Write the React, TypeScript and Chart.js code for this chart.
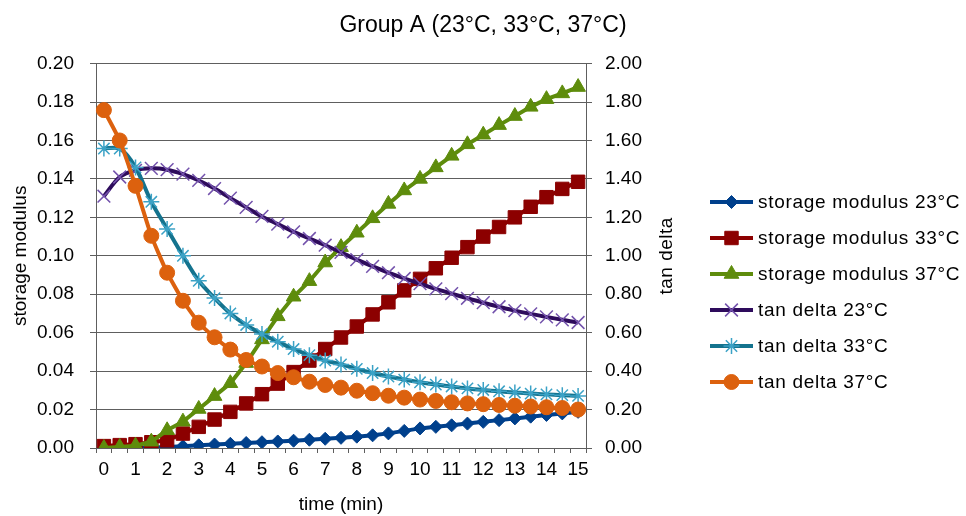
import React, { useEffect, useRef } from 'react';
import { Chart, registerables } from 'chart.js';

Chart.register(...registerables);

// ---- data ----
const timeMin = [0, 0.5, 1, 1.5, 2, 2.5, 3, 3.5, 4, 4.5, 5, 5.5, 6, 6.5, 7, 7.5, 8, 8.5, 9, 9.5, 10, 10.5, 11, 11.5, 12, 12.5, 13, 13.5, 14, 14.5, 15];

const storage23 = [0, 0, 0, 0.0002, 0.0005, 0.0009, 0.0014, 0.0018, 0.0022, 0.0026, 0.003, 0.0034, 0.0038, 0.0043, 0.0048, 0.0053, 0.0059, 0.0066, 0.0076, 0.0089, 0.0102, 0.011, 0.0118, 0.0127, 0.0136, 0.0145, 0.0154, 0.0163, 0.0172, 0.018, 0.0188];
const storage33 = [0.001, 0.0015, 0.002, 0.003, 0.004, 0.0075, 0.011, 0.0148, 0.0188, 0.0232, 0.028, 0.0335, 0.0395, 0.0455, 0.0515, 0.0575, 0.0632, 0.0695, 0.0758, 0.082, 0.088, 0.0935, 0.099, 0.1045, 0.11, 0.115, 0.12, 0.1255, 0.1305, 0.1348, 0.1385];
const storage37 = [0, 0.0005, 0.0012, 0.0033, 0.0092, 0.0137, 0.0203, 0.027, 0.0337, 0.0442, 0.0565, 0.0685, 0.0787, 0.0868, 0.0965, 0.1045, 0.112, 0.1195, 0.127, 0.134, 0.14, 0.146, 0.152, 0.158, 0.163, 0.168, 0.1727, 0.1775, 0.1815, 0.1845, 0.1878];
const tanDelta23 = [1.31, 1.41, 1.445, 1.455, 1.448, 1.425, 1.392, 1.35, 1.3, 1.252, 1.205, 1.165, 1.125, 1.09, 1.055, 1.018, 0.98, 0.945, 0.912, 0.882, 0.855, 0.828, 0.803, 0.779, 0.756, 0.735, 0.715, 0.698, 0.682, 0.667, 0.653];
const tanDelta33 = [1.558, 1.558, 1.46, 1.281, 1.14, 1.0, 0.87, 0.78, 0.7, 0.64, 0.593, 0.553, 0.515, 0.483, 0.455, 0.435, 0.412, 0.39, 0.372, 0.356, 0.342, 0.33, 0.32, 0.31, 0.302, 0.295, 0.289, 0.283, 0.279, 0.275, 0.271];
const tanDelta37 = [1.758, 1.6, 1.364, 1.104, 0.912, 0.766, 0.652, 0.576, 0.512, 0.458, 0.424, 0.39, 0.368, 0.345, 0.328, 0.314, 0.298, 0.285, 0.272, 0.262, 0.252, 0.245, 0.238, 0.232, 0.228, 0.224, 0.22, 0.216, 0.212, 0.208, 0.2];

const seriesLabels = [
  'storage modulus 23°C',
  'storage modulus 33°C',
  'storage modulus 37°C',
  'tan delta 23°C',
  'tan delta 33°C',
  'tan delta 37°C',
];

const chartTitle = 'Group A (23°C, 33°C, 37°C)';
const xTitle = 'time (min)';
const yLeftTitle = 'storage modulus';
const yRightTitle = 'tan delta';

const FONT = '"Liberation Sans", Arial, Helvetica, sans-serif';

type Sty = {
  line: string;
  fill: string;
  stroke: string;
  marker: string;
  radius: number;
  bw: number;
  tension: number;
};

const styles: Sty[] = [
  { line: '#00408C', fill: '#00408C', stroke: '#00408C', marker: 'rectRot', radius: 6.5, bw: 1, tension: 0 },
  { line: '#8C0000', fill: '#8C0000', stroke: '#8C0000', marker: 'rect', radius: 9.5, bw: 1, tension: 0 },
  { line: '#5E8C0C', fill: '#5E8C0C', stroke: '#5E8C0C', marker: 'triangle', radius: 8.5, bw: 1, tension: 0 },
  { line: '#2E0C5C', fill: 'rgba(0,0,0,0)', stroke: '#7352AC', marker: 'crossRot', radius: 9, bw: 1.5, tension: 0.3 },
  { line: '#14738E', fill: 'rgba(0,0,0,0)', stroke: '#3BA2C6', marker: 'star', radius: 8, bw: 1.5, tension: 0.3 },
  { line: '#DC610E', fill: '#DC610E', stroke: '#DC610E', marker: 'circle', radius: 7.5, bw: 1, tension: 0.15 },
];

function drawMarker(ctx: CanvasRenderingContext2D, s: Sty, x: number, y: number) {
  const r = s.radius;
  ctx.save();
  ctx.fillStyle = s.fill;
  ctx.strokeStyle = s.stroke;
  ctx.lineWidth = s.bw;
  ctx.beginPath();
  const q = Math.PI / 4;
  switch (s.marker) {
    case 'circle':
      ctx.arc(x, y, r, 0, Math.PI * 2);
      ctx.closePath();
      ctx.fill();
      ctx.stroke();
      break;
    case 'rect': {
      const h = Math.SQRT1_2 * r;
      ctx.rect(x - h, y - h, 2 * h, 2 * h);
      ctx.fill();
      ctx.stroke();
      break;
    }
    case 'rectRot':
      ctx.moveTo(x - r, y);
      ctx.lineTo(x, y - r);
      ctx.lineTo(x + r, y);
      ctx.lineTo(x, y + r);
      ctx.closePath();
      ctx.fill();
      ctx.stroke();
      break;
    case 'triangle': {
      let a = 0;
      ctx.moveTo(x + Math.sin(a) * r, y - Math.cos(a) * r);
      a += (2 * Math.PI) / 3;
      ctx.lineTo(x + Math.sin(a) * r, y - Math.cos(a) * r);
      a += (2 * Math.PI) / 3;
      ctx.lineTo(x + Math.sin(a) * r, y - Math.cos(a) * r);
      ctx.closePath();
      ctx.fill();
      ctx.stroke();
      break;
    }
    case 'crossRot': {
      const o = Math.cos(q) * r;
      ctx.moveTo(x - o, y - o);
      ctx.lineTo(x + o, y + o);
      ctx.moveTo(x - o, y + o);
      ctx.lineTo(x + o, y - o);
      ctx.stroke();
      break;
    }
    case 'star': {
      const o = Math.cos(q) * r;
      ctx.moveTo(x, y - r);
      ctx.lineTo(x, y + r);
      ctx.moveTo(x - r, y);
      ctx.lineTo(x + r, y);
      ctx.moveTo(x - o, y - o);
      ctx.lineTo(x + o, y + o);
      ctx.moveTo(x - o, y + o);
      ctx.lineTo(x + o, y - o);
      ctx.stroke();
      break;
    }
  }
  ctx.restore();
}

const overlayPlugin = {
  id: 'overlayLegend',
  afterDraw(chart: any) {
    const ctx: CanvasRenderingContext2D = chart.ctx;
    const ca = chart.chartArea;
    // right axis title (reads bottom to top)
    ctx.save();
    ctx.translate(672, (ca.top + ca.bottom) / 2);
    ctx.rotate(-Math.PI / 2);
    ctx.font = `19px ${FONT}`;
    (ctx as any).letterSpacing = '0.5px';
    ctx.fillStyle = '#000';
    ctx.textAlign = 'center';
    ctx.textBaseline = 'alphabetic';
    ctx.fillText(yRightTitle, 0, 0);
    ctx.restore();

    // legend
    const lx0 = 710;
    const lx1 = 753;
    const ty = 202;
    const step = 36;
    chart.data.datasets.forEach((ds: any, i: number) => {
      const s = styles[i];
      const y = ty + i * step;
      ctx.save();
      ctx.strokeStyle = s.line;
      ctx.lineWidth = 4;
      ctx.lineCap = 'butt';
      ctx.beginPath();
      ctx.moveTo(lx0, y);
      ctx.lineTo(lx1, y);
      ctx.stroke();
      ctx.restore();
      drawMarker(ctx, s, (lx0 + lx1) / 2, y);
      ctx.save();
      ctx.font = `19px ${FONT}`;
      (ctx as any).letterSpacing = '0.7px';
      ctx.fillStyle = '#000';
      ctx.textAlign = 'left';
      ctx.textBaseline = 'middle';
      ctx.fillText(ds.label, 758, y + 1);
      ctx.restore();
    });
  },
};

export default function App() {
  const ref = useRef<HTMLCanvasElement | null>(null);

  useEffect(() => {
    if (!ref.current) return;
    Chart.defaults.font.family = FONT;
    Chart.defaults.color = '#000';

    const seriesData = [storage23, storage33, storage37, tanDelta23, tanDelta33, tanDelta37];
    const datasets = seriesData.map((d, i) => {
      const s = styles[i];
      return {
        label: seriesLabels[i],
        data: d,
        yAxisID: i < 3 ? 'y' : 'y1',
        borderColor: s.line,
        backgroundColor: s.line,
        borderWidth: 4,
        tension: s.tension,
        pointStyle: s.marker as any,
        pointRadius: s.radius,
        pointBackgroundColor: s.fill,
        pointBorderColor: s.stroke,
        pointBorderWidth: s.bw,
        fill: false,
        order: 6 - i,
      };
    });

    const gridColor = '#5E5E5E';
    const chart = new Chart(ref.current, {
      type: 'line',
      data: {
        labels: timeMin.map((t) => String(t)),
        datasets,
      },
      options: {
        responsive: false,
        animation: false,
        devicePixelRatio: 1,
        layout: { padding: 0 },
        plugins: {
          legend: { display: false },
          tooltip: { enabled: false },
          title: {
            display: true,
            text: chartTitle,
            color: '#000',
            font: { family: FONT, size: 23, weight: 'normal' as any },
            padding: { top: 12, bottom: 24 },
          },
        },
        scales: {
          x: {
            type: 'category',
            offset: true,
            grid: {
              display: true,
              drawOnChartArea: false,
              drawTicks: true,
              tickLength: 5,
              offset: true,
              color: gridColor,
            },
            border: { display: true, color: gridColor, width: 1 },
            ticks: {
              autoSkip: false,
              maxRotation: 0,
              minRotation: 0,
              padding: 5,
              color: '#000',
              font: { family: FONT, size: 19 },
              callback: (_v: any, idx: number) => (Number.isInteger(timeMin[idx]) ? String(timeMin[idx]) : ''),
            },
            title: {
              display: true,
              text: xTitle,
              color: '#000',
              font: { family: FONT, size: 19 },
              padding: { top: 0, bottom: 0 },
            },
            afterFit: (scale: any) => {
              scale.height = 68;
            },
          },
          y: {
            position: 'left',
            min: 0,
            max: 0.2,
            grid: { color: gridColor, lineWidth: 1, tickLength: 6, drawTicks: true },
            border: { display: true, color: gridColor, width: 1 },
            ticks: {
              stepSize: 0.02,
              padding: 16,
              color: '#000',
              font: { family: FONT, size: 19 },
              callback: (v: any) => Number(v).toFixed(2),
            },
            title: {
              display: true,
              text: yLeftTitle,
              color: '#000',
              font: { family: FONT, size: 19 },
              padding: { top: 9, bottom: 0 },
            },
            afterFit: (scale: any) => {
              scale.width = 96;
            },
          },
          y1: {
            position: 'right',
            min: 0,
            max: 2,
            grid: { drawOnChartArea: false, color: gridColor, tickLength: 6, drawTicks: true },
            border: { display: true, color: gridColor, width: 1 },
            ticks: {
              stepSize: 0.2,
              padding: 13,
              color: '#000',
              font: { family: FONT, size: 19 },
              callback: (v: any) => Number(v).toFixed(2),
            },
            afterFit: (scale: any) => {
              scale.width = 380;
            },
          },
        },
      },
      plugins: [overlayPlugin],
    });

    return () => chart.destroy();
  }, []);

  return (
    <div style={{ position: 'absolute', left: 0, top: 0, width: 966, height: 516, background: '#fff' }}>
      <canvas ref={ref} width={966} height={516} style={{ width: 966, height: 516, display: 'block' }} />
    </div>
  );
}
